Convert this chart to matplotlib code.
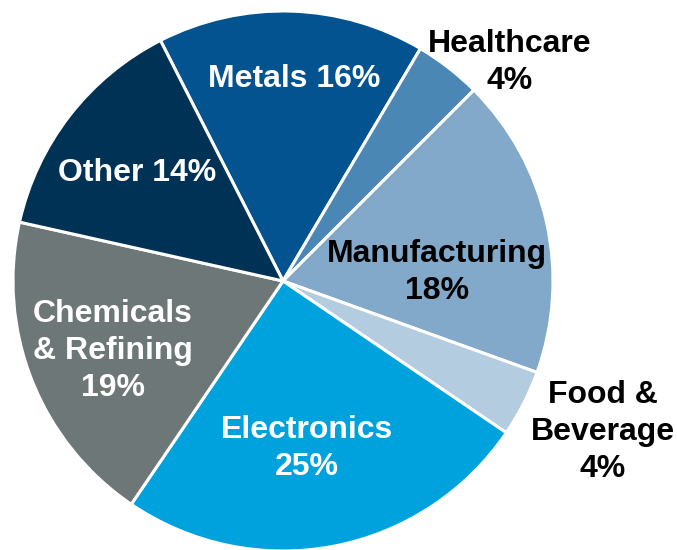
import matplotlib.pyplot as plt

plt.rcParams['font.family'] = ['Liberation Sans', 'DejaVu Sans']

sectors = ["Metals", "Healthcare", "Manufacturing", "Food &\nBeverage",
           "Electronics", "Chemicals\n& Refining", "Other"]
shares = [16, 4, 18, 4, 25, 19, 14]
colors = ["#02538f", "#4b87b4", "#82a9c9", "#b4cce0",
          "#00a2de", "#6e7777", "#003256"]

# label placement (data coords, pie radius = 1) and text colour
label_pos = [(0.04, 0.75), (0.84, 0.81), (0.57, 0.03), (1.185, -0.56),
             (0.09, -0.62), (-0.63, -0.26), (-0.54, 0.40)]
label_col = ["white", "black", "black", "black", "white", "white", "white"]
one_line = [True, False, False, False, False, False, True]

fig = plt.figure(figsize=(6.77, 5.5), dpi=100)
ax = fig.add_axes([0, 0, 1, 1])

ax.pie(shares, colors=colors, startangle=117, counterclock=False,
       radius=1, center=(0, 0),
       wedgeprops=dict(edgecolor="white", linewidth=2.2))

for name, val, (x, y), c, single in zip(sectors, shares, label_pos, label_col, one_line):
    sep = " " if single else "\n"
    ax.text(x, y, f"{name}{sep}{val}%", ha="center", va="center",
            multialignment="center", color=c, fontsize=23,
            fontweight="bold", linespacing=1.3)

ax.set_xlim(-283 / 270, 394 / 270)
ax.set_ylim(-269 / 270, 281 / 270)
ax.set_aspect("equal")
ax.axis("off")

fig.savefig("out.png", dpi=100)
